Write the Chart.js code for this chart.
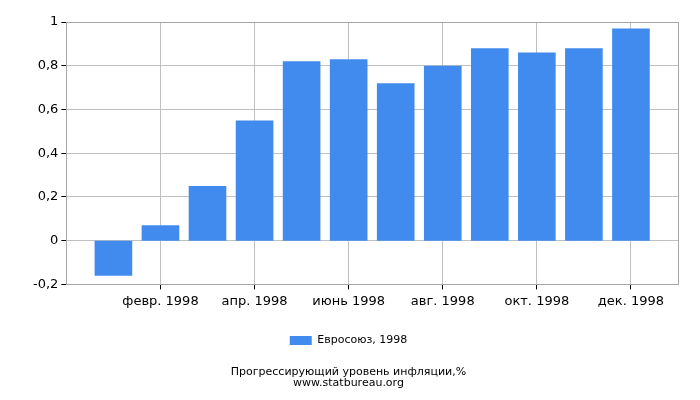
<!DOCTYPE html>
<html>
<head>
<meta charset="utf-8">
<script src="https://cdn.jsdelivr.net/npm/chart.js@4/dist/chart.umd.min.js"></script>
<style>
  html, body { margin: 0; padding: 0; background: #fff; }
  #wrap { width: 700px; height: 400px; }
</style>
</head>
<body>
<div id="wrap"><canvas id="inflationChart"></canvas></div>
<script>
  // Данные: прогрессирующий уровень инфляции, Евросоюз, 1998
  const months = ['янв. 1998', 'февр. 1998', 'март 1998', 'апр. 1998', 'май 1998', 'июнь 1998',
                  'июль 1998', 'авг. 1998', 'сент. 1998', 'окт. 1998', 'нояб. 1998', 'дек. 1998'];
  const values = [-0.16, 0.07, 0.25, 0.55, 0.82, 0.83, 0.72, 0.80, 0.88, 0.86, 0.88, 0.97];
  const seriesLabel = 'Евросоюз, 1998';
  const titleLines = ['Прогрессирующий уровень инфляции,%', 'www.statbureau.org'];

  Chart.defaults.font.family = '"DejaVu Sans", sans-serif';
  Chart.defaults.color = '#000';

  // рамка вокруг области графика
  const frame = {
    id: 'frame',
    afterDraw(chart) {
      const { ctx, chartArea: a } = chart;
      ctx.save();
      ctx.strokeStyle = '#a6a6a6';
      ctx.lineWidth = 1;
      ctx.strokeRect(Math.round(a.left) + 0.5, Math.round(a.top) + 0.5,
                     Math.round(a.right - a.left), Math.round(a.bottom - a.top));
      ctx.restore();
    }
  };

  // месяц по номеру (1..12); подписи только для чётных месяцев
  const isLabeled = n => n >= 1 && n <= months.length && n % 2 === 0;
  const tickOn = c => !!c.tick && isLabeled(c.tick.value);
  const points = months.map((m, i) => ({ x: i + 1, y: values[i] }));

  new Chart(document.getElementById('inflationChart'), {
    type: 'bar',
    data: {
      datasets: [{
        label: seriesLabel,
        data: points,
        backgroundColor: '#418bef',
        borderWidth: 0,
        categoryPercentage: 1,
        barPercentage: 0.8
      }]
    },
    options: {
      responsive: true,
      maintainAspectRatio: false,
      animation: false,
      layout: { padding: { left: 19, right: 22, top: 22, bottom: 7 } },
      scales: {
        x: {
          type: 'linear',
          min: 0,
          max: months.length + 1,
          offset: false,
          grid: {
            offset: false,
            color: c => (tickOn(c) ? '#c0c0c0' : 'rgba(0,0,0,0)'),
            tickColor: c => (tickOn(c) ? '#000' : 'rgba(0,0,0,0)'),
            tickLength: 5
          },
          border: { display: false },
          ticks: {
            stepSize: 1,
            autoSkip: false,
            maxRotation: 0,
            font: { size: 13 },
            padding: 4,
            callback: v => (isLabeled(v) ? months[v - 1] : '')
          }
        },
        y: {
          min: -0.2,
          max: 1,
          afterFit: scale => { scale.width += 11; },
          grid: { color: '#c0c0c0', tickColor: '#000', tickLength: 5 },
          border: { display: false },
          ticks: {
            stepSize: 0.2,
            font: { size: 13 },
            padding: 3,
            callback: v => String(Math.round(v * 10) / 10).replace('.', ',')
          }
        }
      },
      plugins: {
        legend: {
          position: 'bottom',
          labels: { boxWidth: 22, boxHeight: 9, font: { size: 11 }, padding: 22 }
        },
        title: {
          display: true,
          position: 'bottom',
          text: titleLines,
          font: { size: 11, weight: 'normal', lineHeight: 1 },
          color: '#000',
          padding: { top: 11, bottom: 4 }
        },
        tooltip: { enabled: false }
      }
    },
    plugins: [frame]
  });
</script>
</body>
</html>
